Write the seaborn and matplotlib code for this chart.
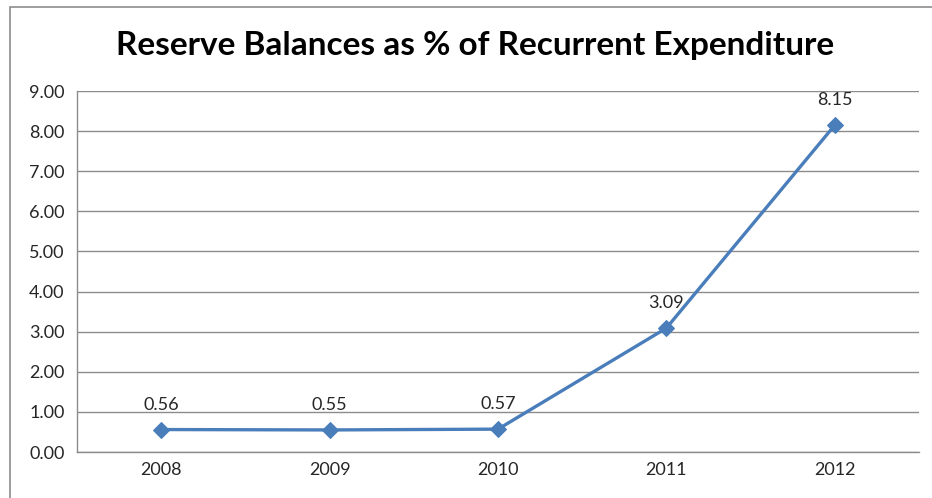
import matplotlib
matplotlib.use("Agg")
import matplotlib.pyplot as plt
from matplotlib.patches import Rectangle
import seaborn as sns
import pandas as pd

years = ["2008", "2009", "2010", "2011", "2012"]
reserve_pct = [0.56, 0.55, 0.57, 3.09, 8.15]
y_ticks = [0, 1, 2, 3, 4, 5, 6, 7, 8, 9]

df = pd.DataFrame({"year": years, "pct": reserve_pct})

sns.set_theme(style="white")
plt.rcParams["font.family"] = ["Lato", "DejaVu Sans"]

fig = plt.figure(figsize=(9.32, 4.98), dpi=100)
ax = fig.add_axes([77 / 932, 1 - 452 / 498, (919 - 77) / 932, (452 - 91) / 498])

line_color = "#4A7EBB"
sns.lineplot(data=df, x="year", y="pct", ax=ax, color=line_color, linewidth=2.4,
             marker="D", markersize=8.5, markeredgecolor=line_color, sort=False)

ax.set_xlim(-0.5, len(years) - 0.5)
ax.set_ylim(0, 9)
ax.set_yticks(y_ticks)
ax.set_yticklabels([f"{v:.2f}" for v in y_ticks])
ax.set_xticks(range(len(years)))
ax.set_xticklabels(years)
ax.set_xlabel("")
ax.set_ylabel("")

# gridlines and axes
ax.yaxis.grid(True, color="#8c8c8c", linewidth=1.0)
ax.set_axisbelow(True)
for side in ["top", "right"]:
    ax.spines[side].set_visible(False)
for side in ["left", "bottom"]:
    ax.spines[side].set_color("#8c8c8c")
    ax.spines[side].set_linewidth(1.0)

label_color = "#262626"
ax.tick_params(axis="y", which="major", length=6, color="#8c8c8c", width=1.0,
               labelsize=13, labelcolor=label_color, pad=3)
ax.tick_params(axis="x", which="major", length=0, labelsize=13,
               labelcolor=label_color, pad=7)
# category boundary ticks on x axis
ax.set_xticks([i - 0.5 for i in range(len(years) + 1)], minor=True)
ax.tick_params(axis="x", which="minor", length=6, color="#8c8c8c", width=1.0)

# value labels above each point
for i, v in enumerate(reserve_pct):
    ax.annotate(f"{v:.2f}", (i, v), xytext=(0, 12), textcoords="offset points",
                ha="center", va="bottom", fontsize=13, color=label_color)

fig.text(475 / 932, 1 - 46 / 498, "Reserve Balances as % of Recurrent Expenditure",
         ha="center", va="center", fontsize=24, fontweight="bold", color="#000000")

# chart frame
fig.patches.append(Rectangle((10 / 932, -0.05), 1.0, 1 - 7 / 498 + 0.05,
                             transform=fig.transFigure, fill=False,
                             edgecolor="#8c8c8c", linewidth=1.2))

fig.savefig("out.png", dpi=100, facecolor="white")
